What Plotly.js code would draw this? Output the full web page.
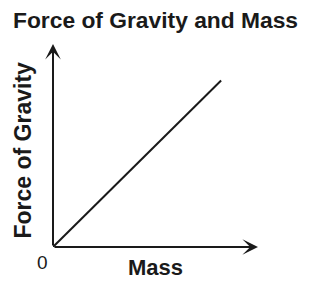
<!DOCTYPE html>
<html>
<head>
<meta charset="utf-8">
<script src="https://cdn.plot.ly/plotly-3.0.1.min.js"></script>
<style>html,body{margin:0;padding:0;background:#fff;}#chart{width:320px;height:284px;}</style>
</head>
<body>
<div id="chart"></div>
<script>
const mass = [0, 8.2];
const force = [0, 8.2];
const axisMax = 10;
const titleText = "Force of Gravity and Mass";
const xLabel = "Mass";
const yLabel = "Force of Gravity";
const originLabel = "0";

const FONT = '"Liberation Sans", Arial, sans-serif';
const INK = '#1a1a1a';

const data = [{
  x: mass, y: force, type: 'scatter', mode: 'lines',
  line: {color: INK, width: 2}, hoverinfo: 'skip'
}];

const axisArrow = (x, y) => ({
  x: x, y: y, ax: 0, ay: 0, xref: 'x', yref: 'y', axref: 'x', ayref: 'y',
  text: '', showarrow: true, arrowhead: 3, arrowwidth: 2, arrowsize: 1.3,
  arrowcolor: INK
});

const layout = {
  width: 320, height: 284,
  margin: {l: 53, r: 62, t: 44, b: 37},
  paper_bgcolor: '#fff', plot_bgcolor: '#fff',
  showlegend: false,
  title: {text: '<b>' + titleText + '</b>', x: 13/320, xanchor: 'left', y: 1 - 20/284, yanchor: 'middle',
          font: {family: FONT, size: 22.8, color: INK}},
  xaxis: {range: [0, axisMax], showgrid: false, zeroline: false, showline: false, showticklabels: false, ticks: '',
          title: {text: '<b>' + xLabel + '</b>', standoff: 12, font: {family: FONT, size: 22, color: INK}}},
  yaxis: {range: [0, axisMax], showgrid: false, zeroline: false, showline: false, showticklabels: false, ticks: ''},
  annotations: [
    axisArrow(axisMax, 0),
    axisArrow(0, axisMax),
    {x: 0, y: 0, xref: 'x', yref: 'y', text: originLabel, showarrow: false,
     xanchor: 'center', yanchor: 'middle', xshift: -11, yshift: -15,
     font: {family: FONT, size: 19, color: INK}},
    {x: (22.5 - 53) / 205, y: (247 - 150) / 203, xref: 'paper', yref: 'paper', text: '<b>' + yLabel + '</b>',
     textangle: -90, showarrow: false, xanchor: 'center', yanchor: 'middle',
     font: {family: FONT, size: 23, color: INK}}
  ]
};

Plotly.newPlot('chart', data, layout, {staticPlot: true, displayModeBar: false});
</script>
</body>
</html>
